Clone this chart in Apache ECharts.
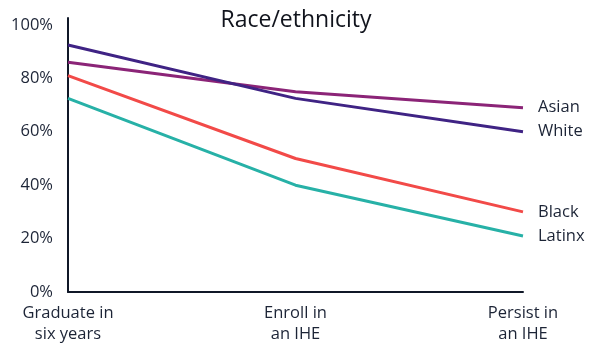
<!DOCTYPE html>
<html>
<head>
<meta charset="utf-8">
<script src="https://cdn.jsdelivr.net/npm/echarts@6/dist/echarts.min.js"></script>
<style>
  html, body { margin: 0; padding: 0; background: #ffffff; }
  #chart { width: 592px; height: 345px; }
</style>
</head>
<body>
<div id="chart"></div>
<script>
// Share of students reaching each milestone, by race/ethnicity (%)
const stages = ['Graduate in\nsix years', 'Enroll in\nan IHE', 'Persist in\nan IHE'];
const white  = [92.5, 72.5, 60];
const asian  = [86, 75, 69];
const black  = [81, 50, 30];
const latinx = [72.5, 40, 21];
const yTicks = [0, 20, 40, 60, 80, 100];

const FONT = '"Open Sans", "DejaVu Sans", sans-serif';
const TEXT = '#1c2436';
const SIZE = 16.5;

function line(name, data, color) {
  return {
    name: name,
    type: 'line',
    data: data,
    symbol: 'none',
    lineStyle: { width: 3, color: color },
    itemStyle: { color: color },
    endLabel: {
      show: true,
      formatter: name,
      color: TEXT,
      fontFamily: FONT,
      fontSize: SIZE,
      distance: 15
    },
    z: 3
  };
}

const chart = echarts.init(document.getElementById('chart'), null, { renderer: 'canvas' });
chart.setOption({
  animation: false,
  title: {
    text: 'Race/ethnicity',
    left: 'center',
    top: 4,
    textStyle: { fontFamily: FONT, fontSize: 23, fontWeight: 'normal', color: '#10131c' }
  },
  grid: { left: 68, right: 69, top: 18, bottom: 53, containLabel: false },
  xAxis: {
    type: 'category',
    data: stages,
    boundaryGap: false,
    axisLine: { lineStyle: { color: '#101828', width: 2 } },
    axisTick: { show: false },
    axisLabel: {
      color: TEXT, fontFamily: FONT, fontSize: SIZE, lineHeight: 21, margin: 11,
      interval: 0
    },
    splitLine: { show: false }
  },
  yAxis: {
    type: 'value',
    min: 0,
    max: 102.6,
    interval: 20,
    axisLine: { show: true, lineStyle: { color: '#101828', width: 2 } },
    axisTick: { show: false },
    splitLine: { show: false },
    axisLabel: {
      color: TEXT, fontFamily: FONT, fontSize: SIZE, margin: 15,
      showMaxLabel: false,
      formatter: v => yTicks.includes(v) ? v + '%' : ''
    }
  },
  series: [
    line('Asian', asian, '#8b2477'),
    line('White', white, '#3f2384'),
    line('Black', black, '#f24a48'),
    line('Latinx', latinx, '#27b1a7')
  ]
});
</script>
</body>
</html>
